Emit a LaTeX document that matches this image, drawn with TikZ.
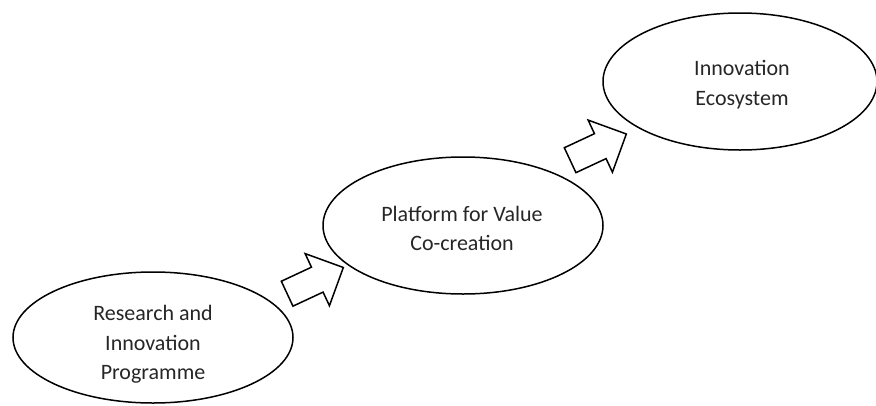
\documentclass[tikz,border=0pt]{standalone}
\usepackage{fontspec}
\setmainfont{Carlito}
\usetikzlibrary{shapes.geometric,shapes.arrows,calc}
\begin{document}
\begin{tikzpicture}[x=1pt,y=-1pt,
  stage/.style={draw, line width=1.5pt, ellipse, inner sep=0pt,
    minimum width=280pt},
  caption/.style={align=center, inner sep=0pt, text=black!85,
    font=\fontsize{22}{29.5}\selectfont},
  push/.style={draw, line width=1.5pt, single arrow, inner xsep=0pt,
    inner ysep=13pt, minimum height=62pt, single arrow head extend=15pt,
    rotate=25}]
  \useasboundingbox (0,0) rectangle (876,405);

  % the three stages
  \node[stage, minimum height=131pt] (rip) at (153,337.5) {};
  \node[stage, minimum height=137pt] (pvc) at (463,225.5) {};
  \node[stage, minimum width=274pt, minimum height=137pt] (eco) at (740,81.5) {};

  \node[caption] (riptext) at ([yshift=-7pt]rip.center)
    {Research and\\Innovation\\Programme};
  \node[caption] (pvctext) at ([xshift=-1pt,yshift=-3pt]pvc.center)
    {Platform for Value\\Co-creation};
  \node[caption] (ecotext) at ([xshift=2pt,yshift=-3pt]eco.center)
    {Innovation\\Ecosystem};

  % block arrows between the stages
  \node[push] (step1) at ([xshift=1pt,yshift=-2pt]$(rip.center)!0.5!(pvc.center)$) {};
  \node[push] (step2) at ([xshift=-9.5pt,yshift=3.5pt]$(pvc.center)!0.5!(eco.center)$) {};
\end{tikzpicture}
\end{document}
